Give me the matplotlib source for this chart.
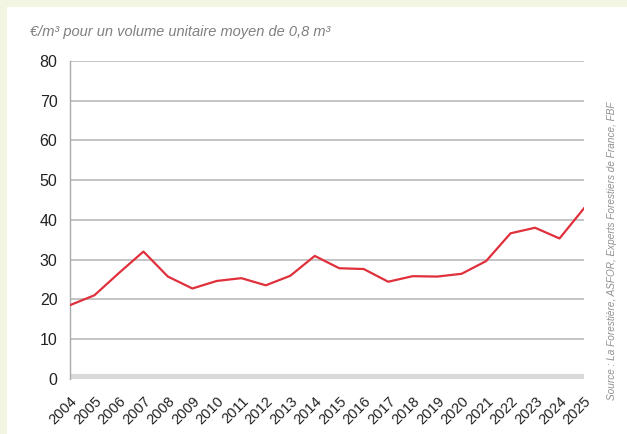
import matplotlib.pyplot as plt
from matplotlib.patches import Rectangle

years = list(range(2004, 2026))
prices = [18.5, 21.0, 26.6, 32.0, 25.7, 22.7, 24.6, 25.3, 23.5, 25.9, 30.9,
          27.8, 27.6, 24.4, 25.8, 25.7, 26.4, 29.6, 36.6, 38.0, 35.3, 42.9]
yticks = [0, 10, 20, 30, 40, 50, 60, 70, 80]

title = "€/m³ pour un volume unitaire moyen de 0,8 m³"
source = "Source : La Forestière, ASFOR, Experts Forestiers de France, FBF"

plt.rcParams['font.family'] = ['Liberation Sans Narrow', 'Liberation Sans', 'DejaVu Sans']

fig = plt.figure(figsize=(6.27, 4.34), dpi=100)
fig.patch.set_facecolor('#f2f5e1')

# white card behind everything
bg = fig.add_axes([7 / 627, 0, 620 / 627, 1 - 7 / 434], zorder=-5)
bg.set_axis_off()
bg.add_patch(Rectangle((0, 0), 1, 1, transform=bg.transAxes,
                       facecolor='white', edgecolor='none'))

ax = fig.add_axes([70 / 627, 1 - 378.6 / 434, 514 / 627, (378.6 - 61) / 434], zorder=1)
ax.set_facecolor('none')

ax.plot(years, prices, color='#e0303c', lw=1.6, zorder=3)

ax.set_xlim(2004, 2025)
ax.set_ylim(0, 80)
ax.set_yticks(yticks)
ax.yaxis.grid(True, color='#b4b4b4', lw=1.1)
ax.set_axisbelow(True)
# floor band along zero
ax.axhline(0, color='#dadada', lw=8, zorder=2, solid_capstyle='butt')

for s in ['top', 'right', 'bottom']:
    ax.spines[s].set_visible(False)
ax.spines['left'].set_color('#aaaaaa')
ax.spines['left'].set_linewidth(1.0)

ax.set_xticks(years)
ax.set_xticklabels([str(y) for y in years], rotation=45, ha='right',
                   rotation_mode='anchor', fontsize=10.5, color='#222222')
ax.tick_params(axis='x', length=0, pad=11)
ax.tick_params(axis='y', length=0, pad=9, labelsize=11.5, labelcolor='#222222')

fig.text(30 / 627, 1 - 32 / 434, title, fontsize=10.5, style='italic',
         color='#808080', ha='left', va='center')
fig.text(612 / 627, 1 - 251 / 434, source, fontsize=7.2, style='italic',
         color='#909090', rotation=90, ha='center', va='center')

fig.savefig('out.png', dpi=100)
